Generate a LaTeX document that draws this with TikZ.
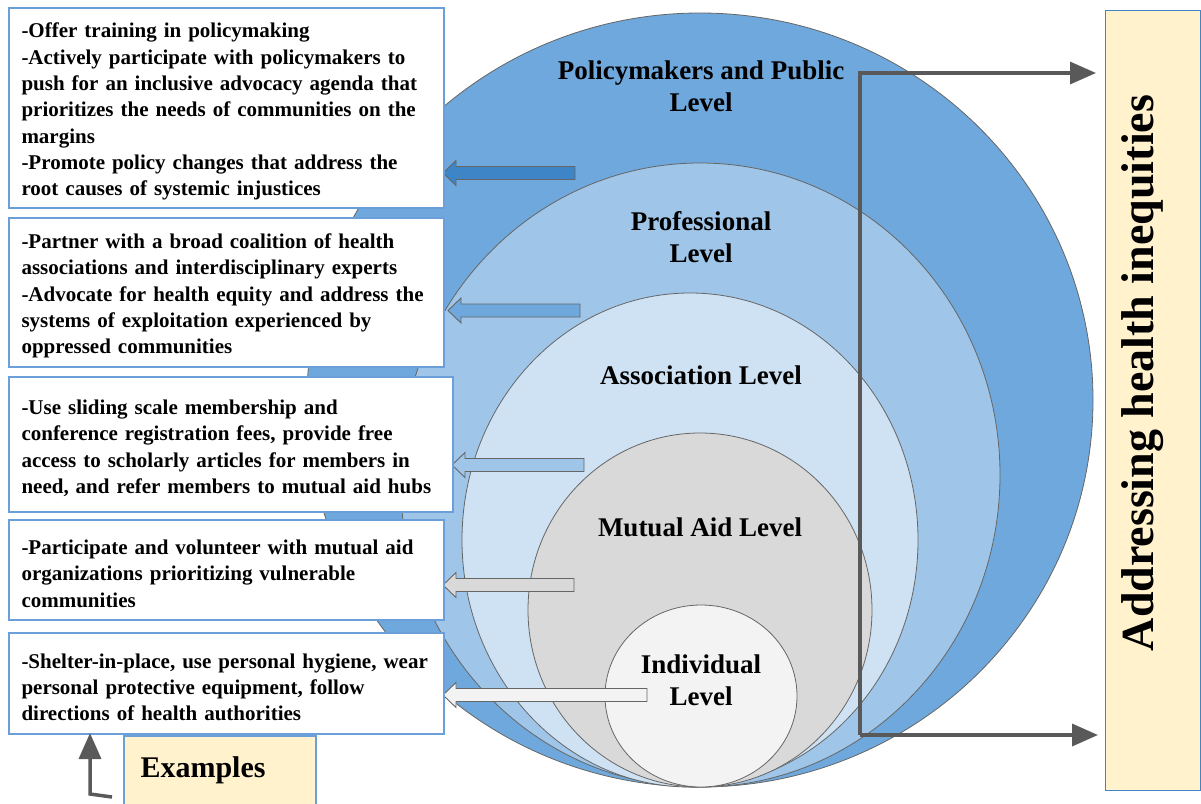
\documentclass[tikz,border=0pt]{standalone}
\usepackage{fontspec}
\setmainfont{Liberation Serif}
\usetikzlibrary{arrows.meta}

\definecolor{policyblue}{HTML}{6FA8DC}
\definecolor{profblue}{HTML}{9FC5E8}
\definecolor{assocblue}{HTML}{CFE2F3}
\definecolor{mutualgrey}{HTML}{D9D9D9}
\definecolor{selfgrey}{HTML}{F3F3F3}
\definecolor{deepblue}{HTML}{3D85C6}
\definecolor{boxblue}{HTML}{6A9FDA}
\definecolor{edgegrey}{HTML}{666666}
\definecolor{flowgrey}{HTML}{595959}
\definecolor{notecream}{HTML}{FFF2CC}

% block arrow: fill, y, tip x, tail x
\newcommand\levelarrow[4]{%
  \draw[draw=edgegrey, line width=0.9pt, fill=#1] (#3,#2) -- (#3+13,#2-12.5) -- (#3+13,#2-6.5)
    -- (#4,#2-6.5) -- (#4,#2+6.5) -- (#3+13,#2+6.5) -- (#3+13,#2+12.5) -- cycle;}

\begin{document}
\begin{tikzpicture}[x=1pt,y=-1pt,
    levelline/.style={draw=edgegrey, line width=0.8pt},
    levellabel/.style={align=center, font=\fontsize{27}{32}\selectfont\bfseries},
    examplebox/.style={draw=boxblue, line width=2pt, fill=white, anchor=north west,
      text width=410pt, inner xsep=12.5pt, align=left,
      font=\fontsize{21}{26.3}\selectfont\bfseries,
      execute at begin node={\rule{0pt}{22pt}}},
    flow/.style={draw=flowgrey, line width=3.5pt, line join=miter,
      arrows={-Triangle[length=26pt,width=22pt]}}]
\useasboundingbox (0,0) rectangle (1201,803);

% the levels, outermost first
\draw[levelline, fill=policyblue] (700,400) ellipse [x radius=393, y radius=387];
\draw[levelline, fill=profblue] (700,475) ellipse [x radius=300, y radius=312];
\draw[levelline, fill=assocblue] (690,540) ellipse [x radius=228, y radius=247];
\draw[levelline, fill=mutualgrey] (700,610) ellipse [x radius=172, y radius=177];
\draw[levelline, fill=selfgrey] (701,696) ellipse [x radius=96, y radius=91];

\node[levellabel] (policy) at (701,86) {Policymakers and Public\\Level};
\node[levellabel] (prof) at (701,237) {Professional\\Level};
\node[levellabel] (assoc) at (701,375) {Association Level};
\node[levellabel] (mutual) at (700,527) {Mutual Aid Level};
\node[levellabel] (self) at (701,680) {Individual\\Level};

% arrows out of each level
\levelarrow{deepblue}{173}{443}{575}
\levelarrow{policyblue}{310.5}{448}{580}
\levelarrow{profblue}{465}{452}{584}
\levelarrow{mutualgrey}{585}{443}{574}
\levelarrow{selfgrey}{695}{443}{647}

% example boxes
\node[examplebox, minimum height=200pt] (ex1) at (8,7) {%
  -Offer training in policymaking\\
  -Actively participate with policymakers to\\
  push for an inclusive advocacy agenda that\\
  prioritizes the needs of communities on the\\
  margins\\
  -Promote policy changes that address the\\
  root causes of systemic injustices};
\node[examplebox, minimum height=149pt] (ex2) at (8,217) {%
  -Partner with a broad coalition of health\\
  associations and interdisciplinary experts\\
  -Advocate for health equity and address the\\
  systems of exploitation experienced by\\
  oppressed communities};
\node[examplebox, minimum height=135pt, text width=419pt] (ex3) at (8,376) {%
  -Use sliding scale membership and\\
  conference registration fees, provide free\\
  access to scholarly articles for members in\\
  need, and refer members to mutual aid hubs};
\node[examplebox, minimum height=100pt] (ex4) at (8,519) {%
  -Participate and volunteer with mutual aid\\
  organizations prioritizing vulnerable\\
  communities};
\node[examplebox, minimum height=101pt] (ex5) at (8,632) {%
  -Shelter-in-place, use personal hygiene, wear\\
  personal protective equipment, follow\\
  directions of health authorities};

% examples tag
\node[draw=boxblue, line width=1.5pt, fill=notecream, anchor=north west,
  minimum width=192pt, minimum height=80pt] (tag) at (123,735) {};
\node[anchor=base west, font=\fontsize{30}{30}\selectfont\bfseries] (tagtext) at (137,777) {Examples};

% goal box
\node[draw=deepblue, line width=1pt, fill=notecream, anchor=north west,
  minimum width=95pt, minimum height=780pt] (goal) at (1105,10) {};
\node[rotate=90, font=\fontsize{46}{46}\selectfont\bfseries] (goaltext) at (1143,373) {Addressing health inequities};

% connectors
\coordinate (turntop) at (860,73);
\coordinate (turnbot) at (860,735);
\draw[flow] (turnbot) -- (turntop) -- ([xshift=-9pt]goal.west |- turntop);
\draw[flow] (turnbot) -- ([xshift=-7pt]goal.west |- turnbot);
\coordinate (tagfoot) at (112,797);
\coordinate (tagbend) at (90,794);
\draw[flow] (tagfoot) -- (tagbend) -- ([yshift=2pt]tagbend |- ex5.south);
\end{tikzpicture}
\end{document}
